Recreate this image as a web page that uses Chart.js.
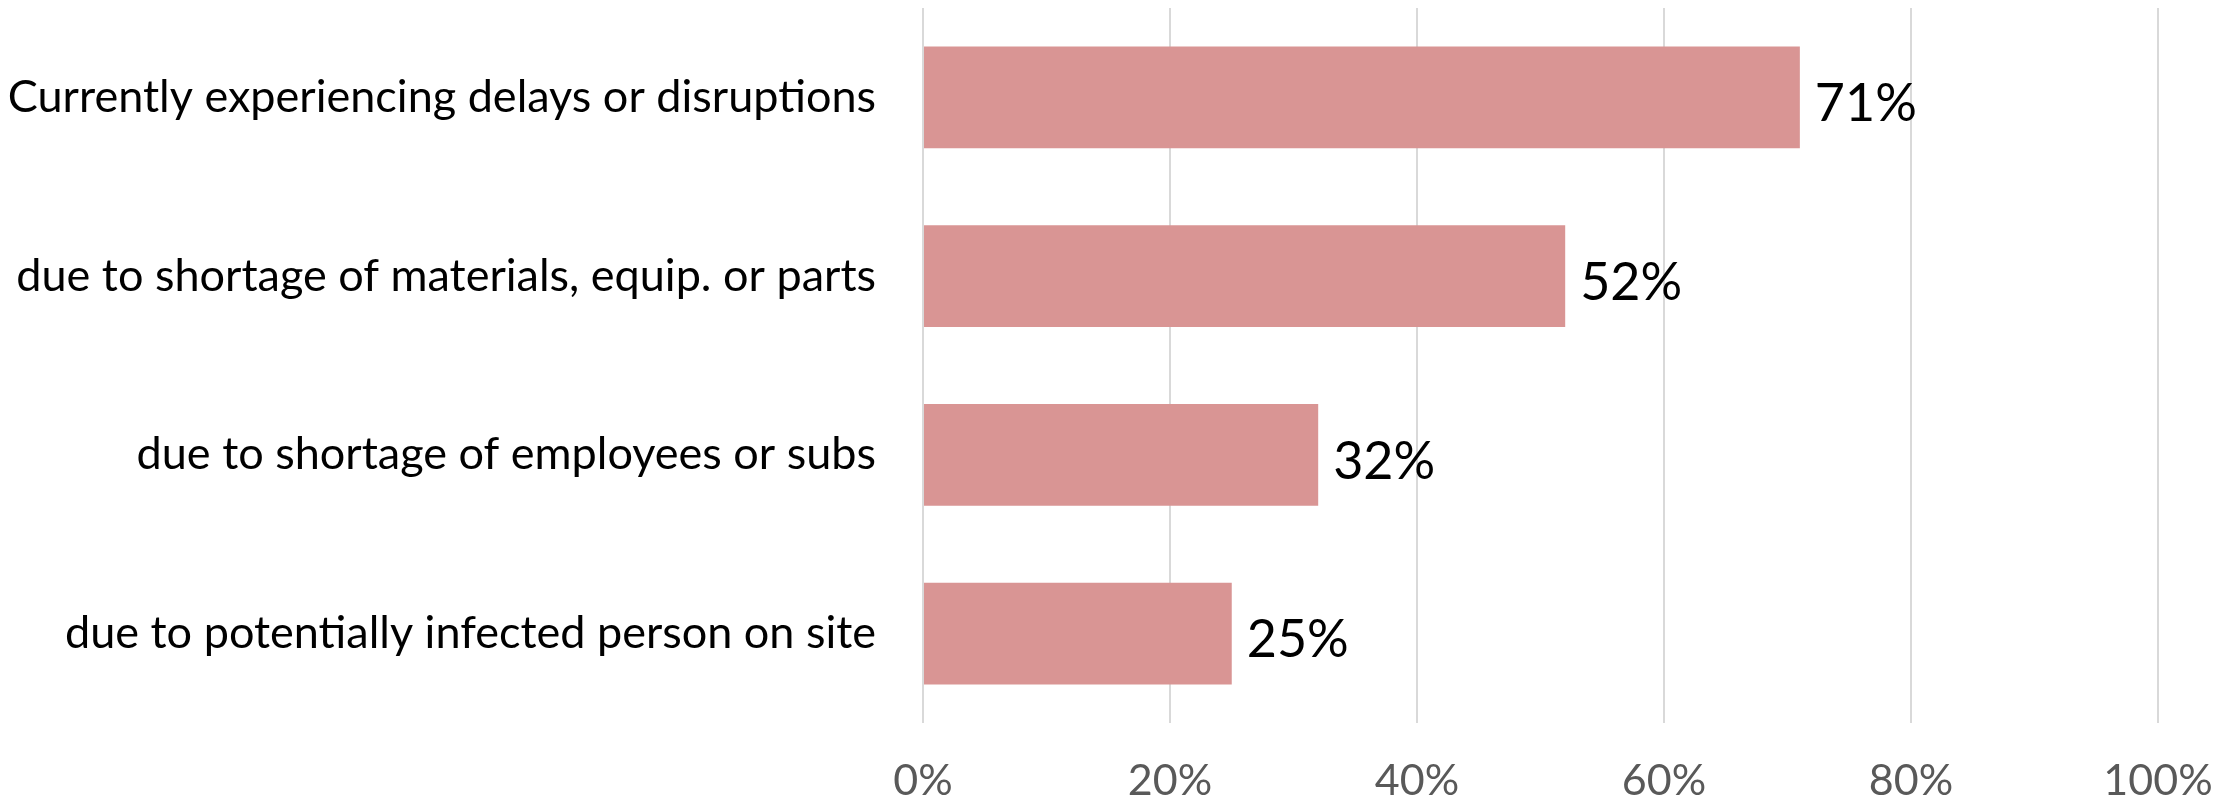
<!DOCTYPE html>
<html>
<head>
<meta charset="utf-8">
<script src="https://cdn.jsdelivr.net/npm/chart.js@4"></script>
<style>
  html, body { margin: 0; padding: 0; background: #ffffff; }
  #wrap { width: 2237px; height: 804px; }
</style>
</head>
<body>
<div id="wrap"><canvas id="barChart" width="2237" height="804"></canvas></div>
<script>
    const categories = [
        'Currently experiencing delays or disruptions',
        'due to shortage of materials, equip. or parts',
        'due to shortage of employees or subs',
        'due to potentially infected person on site'
    ];
    const shares = [71, 52, 32, 25];
    const tickValues = [0, 20, 40, 60, 80, 100];

    const FONT = 'Lato, "Open Sans", sans-serif';

    // value labels at the end of each bar
    const barLabels = {
        id: 'barLabels',
        afterDatasetsDraw(chart) {
            const ctx = chart.ctx;
            const meta = chart.getDatasetMeta(0);
            ctx.save();
            ctx.font = '52px ' + FONT;
            ctx.fillStyle = '#000000';
            ctx.textAlign = 'left';
            ctx.textBaseline = 'middle';
            meta.data.forEach((bar, i) => {
                ctx.fillText(shares[i] + '%', bar.x + 15, bar.y + 7);
            });
            ctx.restore();
        }
    };

    try {
        const ctx = document.getElementById('barChart');
        window.__BAR_CHART = new Chart(ctx, {
            type: 'bar',
            data: {
                labels: categories,
                datasets: [{
                    data: shares,
                    backgroundColor: '#D99594',
                    borderWidth: 0,
                    barPercentage: 0.57,
                    categoryPercentage: 1.0
                }]
            },
            options: {
                indexAxis: 'y',
                responsive: false,
                animation: false,
                devicePixelRatio: 1,
                layout: { padding: { top: 8, right: 79, left: 0, bottom: 0 } },
                plugins: {
                    legend: { display: false },
                    tooltip: { enabled: false }
                },
                scales: {
                    x: {
                        min: 0,
                        max: 100,
                        afterBuildTicks: (scale) => { scale.ticks = tickValues.map(v => ({ value: v })); },
                        afterFit: (scale) => {
                            scale.height = 81;
                            scale.paddingLeft = 0;
                            scale.paddingRight = 0;
                        },
                        ticks: {
                            color: '#595959',
                            font: { family: FONT, size: 43 },
                            padding: 32,
                            callback: (v) => v + '%'
                        },
                        grid: { color: '#D9D9D9', lineWidth: 2, drawTicks: false },
                        border: { display: false }
                    },
                    y: {
                        afterFit: (scale) => {
                            scale.width = 923;
                            scale.paddingTop = 0;
                            scale.paddingBottom = 0;
                        },
                        ticks: {
                            color: '#000000',
                            font: { family: FONT, size: 45 },
                            padding: 47
                        },
                        grid: { display: false, drawTicks: false },
                        border: { display: false }
                    }
                }
            },
            plugins: [barLabels]
        });
    } catch (err) {
        console.error('chart init error', err);
    }
</script>
</body>
</html>
